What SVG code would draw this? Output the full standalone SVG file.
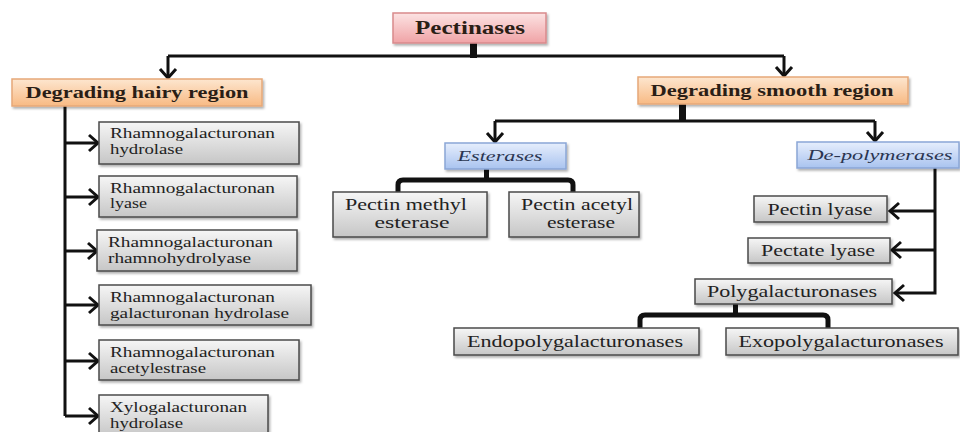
<svg xmlns="http://www.w3.org/2000/svg" width="960" height="432" viewBox="0 0 960 432">
<style>
text{font-family:"Liberation Serif","Times New Roman",serif;fill:#222}
.hd{font-weight:bold;font-size:16px;fill:#2a1e16;text-anchor:middle}
.it{font-style:italic;font-size:15px;fill:#2a3550;text-anchor:middle}
.g{font-size:15px}
.gc{font-size:16px;text-anchor:middle}
.gray{fill:url(#gGray);stroke:#4a4a4a;stroke-width:1.5;filter:url(#sh)}
.ln{fill:none;stroke:#111;stroke-width:3}
.thk{fill:none;stroke:#111;stroke-width:5}
</style>
<defs>
<linearGradient id="gGray" x1="0" y1="0" x2="0" y2="1"><stop offset="0" stop-color="#f6f6f6"/><stop offset="1" stop-color="#c6c6c6"/></linearGradient>
<linearGradient id="gPink" x1="0" y1="0" x2="0" y2="1"><stop offset="0" stop-color="#fce3e3"/><stop offset="1" stop-color="#f0a3a6"/></linearGradient>
<linearGradient id="gOr" x1="0" y1="0" x2="0" y2="1"><stop offset="0" stop-color="#fde6cf"/><stop offset="1" stop-color="#f8ba84"/></linearGradient>
<linearGradient id="gBl" x1="0" y1="0" x2="0" y2="1"><stop offset="0" stop-color="#e6eefc"/><stop offset="1" stop-color="#a9c3ef"/></linearGradient>
<filter id="sh" x="-10%" y="-20%" width="130%" height="150%"><feDropShadow dx="1.5" dy="2" stdDeviation="1" flood-color="#000" flood-opacity="0.3"/></filter>
<marker id="ah" viewBox="0 0 20 20" markerWidth="20" markerHeight="20" refX="17" refY="10" orient="auto" markerUnits="userSpaceOnUse"><path d="M8,2 L17,10 L8,18" fill="none" stroke="#111" stroke-width="3"/></marker>
</defs>

<g id="connectors">
<rect x="470" y="43" width="7" height="15" fill="#111"/>
<path class="ln" d="M168,56 H784"/>
<path class="ln" d="M168,56 V78" marker-end="url(#ah)"/>
<path class="ln" d="M784,56 V76" marker-end="url(#ah)"/>
<path class="ln" d="M65,106 V416"/>
<path class="ln" d="M65,143 H98" marker-end="url(#ah)"/>
<path class="ln" d="M65,197 H98" marker-end="url(#ah)"/>
<path class="ln" d="M65,251 H97" marker-end="url(#ah)"/>
<path class="ln" d="M65,305 H98" marker-end="url(#ah)"/>
<path class="ln" d="M65,361 H98" marker-end="url(#ah)"/>
<path class="ln" d="M65,416 H98" marker-end="url(#ah)"/>
<rect x="679" y="104" width="7" height="18" fill="#111"/>
<path class="ln" d="M495,121 H875"/>
<path class="ln" d="M495,121 V142" marker-end="url(#ah)"/>
<path class="ln" d="M875,121 V141" marker-end="url(#ah)"/>
<rect x="484" y="169" width="5" height="11" fill="#111"/>
<path class="thk" d="M398,192 V185 Q398,180 403,180 H568 Q573,180 573,185 V192"/>
<path class="ln" d="M935,168 V293 H895" marker-end="url(#ah)"/>
<path class="ln" d="M935,211 H890" marker-end="url(#ah)"/>
<path class="ln" d="M935,250 H892" marker-end="url(#ah)"/>
<rect x="733" y="304" width="5" height="11" fill="#111"/>
<path class="thk" d="M640,328 V320 Q640,315 645,315 H823 Q828,315 828,320 V328"/>
</g>

<g id="pectinases">
<rect x="393" y="13" width="153" height="30" fill="url(#gPink)" stroke="#d98a8c" stroke-width="1.5" filter="url(#sh)"/>
<text x="470" y="34" class="hd" style="font-size:18px" textLength="110" lengthAdjust="spacingAndGlyphs">Pectinases</text>
</g>
<g id="hairy">
<rect x="12" y="79" width="250" height="27" fill="url(#gOr)" stroke="#e6a878" stroke-width="1.5" filter="url(#sh)"/>
<text x="137" y="98" class="hd" textLength="223" lengthAdjust="spacingAndGlyphs">Degrading hairy region</text>
</g>
<g id="smooth">
<rect x="638" y="77" width="270" height="27" fill="url(#gOr)" stroke="#e6a878" stroke-width="1.5" filter="url(#sh)"/>
<text x="772" y="96" class="hd" textLength="243" lengthAdjust="spacingAndGlyphs">Degrading smooth region</text>
</g>

<g id="rg-hydrolase">
<rect class="gray" x="99" y="122" width="200" height="42"/>
<text class="g" x="110" y="138" textLength="165" lengthAdjust="spacingAndGlyphs">Rhamnogalacturonan</text>
<text class="g" x="110" y="154" textLength="73" lengthAdjust="spacingAndGlyphs">hydrolase</text>
</g>
<g id="rg-lyase">
<rect class="gray" x="99" y="176" width="198" height="41"/>
<text class="g" x="110" y="193" textLength="165" lengthAdjust="spacingAndGlyphs">Rhamnogalacturonan</text>
<text class="g" x="110" y="208" textLength="37" lengthAdjust="spacingAndGlyphs">lyase</text>
</g>
<g id="rg-rhamnohydrolyase">
<rect class="gray" x="97" y="230" width="200" height="41"/>
<text class="g" x="108" y="247" textLength="165" lengthAdjust="spacingAndGlyphs">Rhamnogalacturonan</text>
<text class="g" x="108" y="263" textLength="143" lengthAdjust="spacingAndGlyphs">rhamnohydrolyase</text>
</g>
<g id="rg-galacturonan-hydrolase">
<rect class="gray" x="99" y="285" width="212" height="40"/>
<text class="g" x="110" y="302" textLength="165" lengthAdjust="spacingAndGlyphs">Rhamnogalacturonan</text>
<text class="g" x="110" y="318" textLength="179" lengthAdjust="spacingAndGlyphs">galacturonan  hydrolase</text>
</g>
<g id="rg-acetylesterase">
<rect class="gray" x="99" y="340" width="200" height="40"/>
<text class="g" x="110" y="357" textLength="165" lengthAdjust="spacingAndGlyphs">Rhamnogalacturonan</text>
<text class="g" x="110" y="373" textLength="96" lengthAdjust="spacingAndGlyphs">acetylestrase</text>
</g>
<g id="xg-hydrolase">
<rect class="gray" x="99" y="395" width="169" height="42"/>
<text class="g" x="110" y="412" textLength="137" lengthAdjust="spacingAndGlyphs">Xylogalacturonan</text>
<text class="g" x="110" y="428" textLength="73" lengthAdjust="spacingAndGlyphs">hydrolase</text>
</g>

<g id="esterases">
<rect x="445" y="143" width="121" height="26" fill="url(#gBl)" stroke="#8aa6d6" stroke-width="1.5" filter="url(#sh)"/>
<text class="it" x="500" y="161" textLength="85" lengthAdjust="spacingAndGlyphs">Esterases</text>
</g>
<g id="depolymerases">
<rect x="797" y="142" width="162" height="26" fill="url(#gBl)" stroke="#8aa6d6" stroke-width="1.5" filter="url(#sh)"/>
<text class="it" x="880" y="160" textLength="145" lengthAdjust="spacingAndGlyphs">De-polymerases</text>
</g>

<g id="pme">
<rect class="gray" x="333" y="192" width="154" height="45"/>
<text class="gc" x="406" y="210" textLength="122" lengthAdjust="spacingAndGlyphs">Pectin methyl</text>
<text class="gc" x="412" y="228" textLength="75" lengthAdjust="spacingAndGlyphs">esterase</text>
</g>
<g id="pae">
<rect class="gray" x="509" y="192" width="130" height="45"/>
<text class="gc" x="577" y="210" textLength="112" lengthAdjust="spacingAndGlyphs">Pectin acetyl</text>
<text class="gc" x="581" y="228" textLength="68" lengthAdjust="spacingAndGlyphs">esterase</text>
</g>

<g id="pectin-lyase">
<rect class="gray" x="754" y="196" width="133" height="26"/>
<text class="gc" x="820" y="215" textLength="105" lengthAdjust="spacingAndGlyphs">Pectin lyase</text>
</g>
<g id="pectate-lyase">
<rect class="gray" x="748" y="238" width="142" height="25"/>
<text class="gc" x="818" y="256" textLength="114" lengthAdjust="spacingAndGlyphs">Pectate lyase</text>
</g>
<g id="polygalacturonases">
<rect class="gray" x="695" y="279" width="197" height="25"/>
<text class="gc" x="792" y="297" textLength="170" lengthAdjust="spacingAndGlyphs">Polygalacturonases</text>
</g>
<g id="endo">
<rect class="gray" x="454" y="328" width="245" height="27"/>
<text class="gc" x="575" y="347" textLength="216" lengthAdjust="spacingAndGlyphs">Endopolygalacturonases</text>
</g>
<g id="exo">
<rect class="gray" x="726" y="328" width="232" height="27"/>
<text class="gc" x="841" y="347" textLength="205" lengthAdjust="spacingAndGlyphs">Exopolygalacturonases</text>
</g>
</svg>
